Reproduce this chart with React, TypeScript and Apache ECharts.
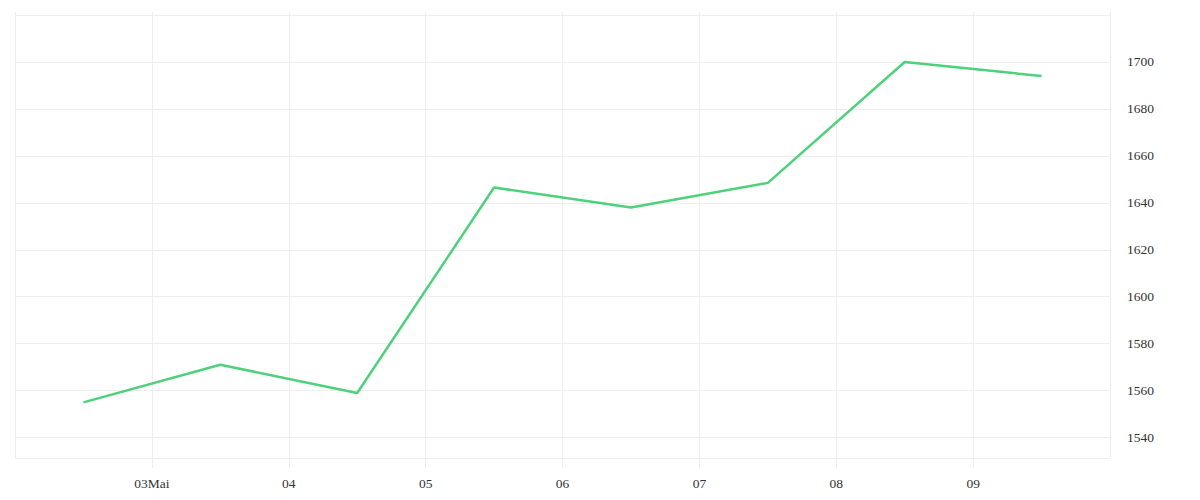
import React, { useEffect, useRef } from "react";
import * as echarts from "echarts";

// Day of May (12:00 = .5) and values
const days = [2.5, 3.5, 4.5, 5.5, 6.5, 7.5, 8.5, 9.5];
const values = [1555, 1571, 1559, 1646.5, 1638, 1648.5, 1700, 1694];
const monthLabel = "Mai";

export default function App() {
  const ref = useRef<HTMLDivElement>(null);
  useEffect(() => {
    if (!ref.current) return;
    const chart = echarts.init(ref.current, undefined, { renderer: "svg" });
    const gridColor = "#eeeeee";
    const font = { fontFamily: "Liberation Serif", fontSize: 13.5, color: "#333" };
    const xLabel = (v: number) => {
      const s = String(Math.round(v)).padStart(2, "0");
      return Math.round(v) === 3 ? s + monthLabel : s;
    };
    chart.setOption({
      animation: false,
      grid: { left: 7, right: 82, top: 7, bottom: 34 },
      xAxis: [
        {
          type: "value",
          min: 2,
          max: 10,
          interval: 1,
          position: "bottom",
          axisLine: { show: false },
          axisTick: { show: true, length: 10, lineStyle: { color: gridColor } },
          splitLine: { show: true, lineStyle: { color: gridColor } },
          axisLabel: { ...font, margin: 18, showMinLabel: false, showMaxLabel: false, formatter: xLabel },
        },
        {
          type: "value",
          min: 2,
          max: 10,
          interval: 1,
          position: "top",
          axisLine: { show: false },
          axisTick: { show: true, length: 3, lineStyle: { color: gridColor } },
          splitLine: { show: false },
          axisLabel: { show: false },
        },
      ],
      yAxis: {
        type: "value",
        position: "right",
        min: 1531.3,
        max: 1720,
        splitNumber: 10,
        axisLine: { show: false },
        axisTick: { show: false },
        splitLine: { show: true, lineStyle: { color: gridColor } },
        axisLabel: {
          ...font,
          margin: 17,
          showMinLabel: false,
          showMaxLabel: false,
          formatter: (v: number) => String(Math.round(v)),
        },
      },
      series: [
        {
          type: "line",
          data: days.map((d, i) => [d, values[i]]),
          showSymbol: false,
          lineStyle: { color: "#4ed17b", width: 2.5 },
          itemStyle: { color: "#4ed17b" },
        },
      ],
    });
    return () => chart.dispose();
  }, []);
  return <div ref={ref} style={{ width: 1184, height: 484 }} />;
}
